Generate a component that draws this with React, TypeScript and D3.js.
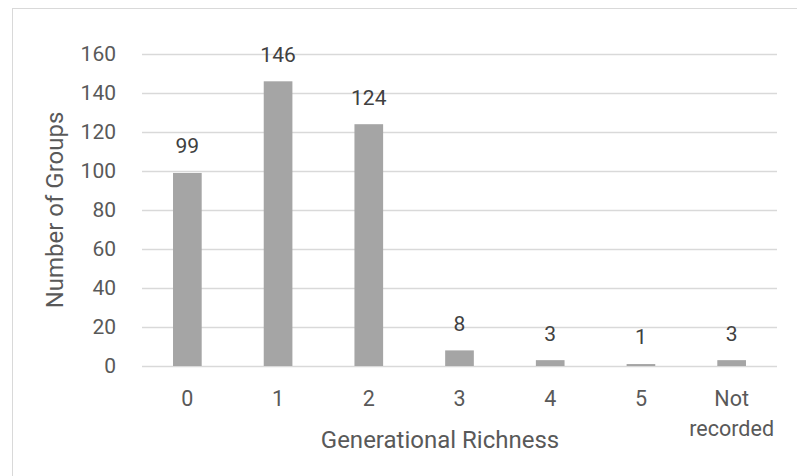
import { useEffect, useRef } from 'react';
import * as d3 from 'd3';

const categories = ['0', '1', '2', '3', '4', '5', 'Not recorded'];
const groupCounts = [99, 146, 124, 8, 3, 1, 3];
const yTicks = [0, 20, 40, 60, 80, 100, 120, 140, 160];

const FONT = 'Roboto, "Liberation Sans", Arial, sans-serif';

export default function App() {
  const svgRef = useRef<SVGSVGElement>(null);

  useEffect(() => {
    if (!svgRef.current) return;
    const width = 797;
    const height = 476;
    const plot = { left: 142, right: 777, top: 54, bottom: 366 };

    const svg = d3.select(svgRef.current);
    svg.selectAll('*').remove();
    svg.attr('width', width).attr('height', height).attr('viewBox', `0 0 ${width} ${height}`);

    svg.append('rect').attr('width', width).attr('height', height).attr('fill', '#fff');
    // chart border (right/bottom edges fall outside the picture)
    svg
      .append('rect')
      .attr('x', 12.5)
      .attr('y', 8.5)
      .attr('width', 800)
      .attr('height', 480)
      .attr('fill', 'none')
      .attr('stroke', '#d9d9d9');

    const x = d3
      .scaleBand<string>()
      .domain(categories)
      .range([plot.left, plot.right])
      .paddingInner(0.684)
      .paddingOuter(0.342);
    const y = d3.scaleLinear().domain([0, 160]).range([plot.bottom, plot.top]);

    // Gridlines
    svg
      .append('g')
      .selectAll('line')
      .data(yTicks)
      .join('line')
      .attr('x1', plot.left)
      .attr('x2', plot.right)
      .attr('y1', (d) => Math.round(y(d)) + 0.5)
      .attr('y2', (d) => Math.round(y(d)) + 0.5)
      .attr('stroke', '#d9d9d9')
      .attr('stroke-width', 1.3);

    // Y tick labels
    svg
      .append('g')
      .selectAll('text')
      .data(yTicks)
      .join('text')
      .attr('x', 116)
      .attr('y', (d) => y(d))
      .attr('dy', '0.35em')
      .attr('text-anchor', 'end')
      .attr('font-family', FONT)
      .attr('font-size', 21)
      .attr('fill', '#595959')
      .text((d) => d);

    // Bars
    svg
      .append('g')
      .selectAll('rect')
      .data(groupCounts)
      .join('rect')
      .attr('x', (_, i) => x(categories[i])!)
      .attr('y', (d) => y(d))
      .attr('width', x.bandwidth())
      .attr('height', (d) => y(0) - y(d))
      .attr('fill', '#a5a5a5');

    // Data labels
    svg
      .append('g')
      .selectAll('text')
      .data(groupCounts)
      .join('text')
      .attr('x', (_, i) => x(categories[i])! + x.bandwidth() / 2)
      .attr('y', (d) => y(d) - 27)
      .attr('dy', '0.35em')
      .attr('text-anchor', 'middle')
      .attr('font-family', FONT)
      .attr('font-size', 21)
      .attr('fill', '#404040')
      .text((d) => d);

    // Category labels
    const cat = svg
      .append('g')
      .selectAll('text')
      .data(categories)
      .join('text')
      .attr('x', (d) => x(d)! + x.bandwidth() / 2)
      .attr('y', 398)
      .attr('text-anchor', 'middle')
      .attr('font-family', FONT)
      .attr('font-size', 21.5)
      .attr('fill', '#595959');
    cat
      .selectAll('tspan')
      .data((d) => (d === 'Not recorded' ? ['Not', 'recorded'] : [d]))
      .join('tspan')
      .attr('x', function () {
        return (this.parentNode as SVGTextElement).getAttribute('x');
      })
      .attr('dy', (_, i) => (i === 0 ? '0.35em' : 30))
      .text((d) => d);

    // Axis titles
    svg
      .append('text')
      .attr('x', 440)
      .attr('y', 440)
      .attr('dy', '0.35em')
      .attr('text-anchor', 'middle')
      .attr('font-family', FONT)
      .attr('font-size', 24)
      .attr('fill', '#595959')
      .text('Generational Richness');

    svg
      .append('text')
      .attr('transform', 'rotate(-90)')
      .attr('x', -210)
      .attr('y', 55)
      .attr('dy', '0.35em')
      .attr('text-anchor', 'middle')
      .attr('font-family', FONT)
      .attr('font-size', 24)
      .attr('fill', '#595959')
      .text('Number of Groups');
  }, []);

  return (
    <svg
      ref={svgRef}
      style={{ position: 'absolute', left: 0, top: 0, display: 'block' }}
    />
  );
}
